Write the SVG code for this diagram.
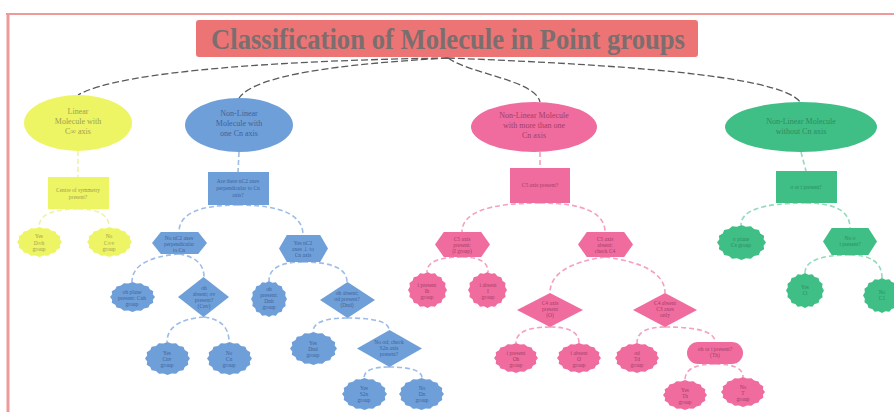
<svg xmlns="http://www.w3.org/2000/svg" width="894" height="412" viewBox="0 0 894 412">
<defs>
<symbol id="leaf" viewBox="0 0 100 100" preserveAspectRatio="none"><polygon points="100,50 95.12,58.97 96.19,69.13 88.25,75.56 85.36,85.36 75.56,88.25 69.13,96.19 58.97,95.12 50,100 41.03,95.12 30.87,96.19 24.44,88.25 14.64,85.36 11.75,75.56 3.81,69.13 4.88,58.97 0,50 4.88,41.03 3.81,30.87 11.75,24.44 14.64,14.64 24.44,11.75 30.87,3.81 41.03,4.88 50,0 58.97,4.88 69.13,3.81 75.56,11.75 85.36,14.64 88.25,24.44 96.19,30.87 95.12,41.03"/></symbol>
<symbol id="hex" viewBox="0 0 100 100" preserveAspectRatio="none"><polygon points="0,50 16,0 84,0 100,50 84,100 16,100"/></symbol>
<symbol id="dia" viewBox="0 0 100 100" preserveAspectRatio="none"><polygon points="50,0 100,50 50,100 0,50"/></symbol>
</defs>
<style>
.t{font-family:"Liberation Serif","Times New Roman",serif;text-anchor:middle}
.s{font-size:5.5px}
.m{font-size:8px}
.yf{fill:#eef564}.yt{fill:#9ea04e}
.bf{fill:#6f9fd8}.bt{fill:#3e639a}
.pf{fill:#f06c9f}.pt{fill:#a33e66}
.gf{fill:#3fbf86}.gt{fill:#2c8c60}
.c{fill:none;stroke-width:1.6;stroke-dasharray:5 3}
.cy{stroke:#eef3a8}.cb{stroke:#9dbde6}.cp{stroke:#f3a0c2}.cg{stroke:#93dbb9}
.ct{fill:none;stroke:#5a5a5a;stroke-width:1.3;stroke-dasharray:7 3}
</style>
<rect x="0" y="0" width="894" height="412" fill="#ffffff"/>
<g id="frame">
<line x1="6" y1="14" x2="894" y2="14" stroke="#ef9a9a" stroke-width="2"/>
<line x1="8" y1="14" x2="8" y2="412" stroke="#ef9a9a" stroke-width="3"/>
</g>
<g id="connectors">
<path class="ct" d="M448,58 C300,60 120,70 78,95"/>
<path class="ct" d="M448,58 C340,64 255,75 239,98"/>
<path class="ct" d="M448,58 C470,74 535,80 540,102"/>
<path class="ct" d="M448,58 C600,64 780,74 800,102"/>
<path class="c cy" d="M78,151 L78,177"/>
<path class="c cy" d="M78,209 Q39,209 39,227"/>
<path class="c cy" d="M78,209 Q109,209 109,227"/>
<path class="c cb" d="M239,152 L238,172"/>
<path class="c cb" d="M238,205 Q179,205 179,232"/>
<path class="c cb" d="M238,205 Q303,205 303,235"/>
<path class="c cb" d="M179,254 Q132,258 132,282"/>
<path class="c cb" d="M179,254 Q204,258 204,277"/>
<path class="c cb" d="M204,317 Q167,320 167,342"/>
<path class="c cb" d="M204,317 Q229,320 229,342"/>
<path class="c cb" d="M303,262 Q269,262 269,281"/>
<path class="c cb" d="M303,262 Q347,262 347,282"/>
<path class="c cb" d="M347,318 Q313,318 313,332"/>
<path class="c cb" d="M347,318 Q389,318 389,330"/>
<path class="c cb" d="M389,367 Q364,367 364,378"/>
<path class="c cb" d="M389,367 Q422,367 422,378"/>
<path class="c cp" d="M540,152 L540,168"/>
<path class="c cp" d="M540,203 Q462,203 462,232"/>
<path class="c cp" d="M540,203 Q605,203 605,232"/>
<path class="c cp" d="M462,257 Q427,257 427,272"/>
<path class="c cp" d="M462,257 Q488,257 488,272"/>
<path class="c cp" d="M605,257 Q550,265 550,293"/>
<path class="c cp" d="M605,257 Q665,265 665,293"/>
<path class="c cp" d="M550,327 Q516,327 516,343"/>
<path class="c cp" d="M550,327 Q579,327 579,343"/>
<path class="c cp" d="M665,327 Q637,327 637,343"/>
<path class="c cp" d="M665,327 Q715,327 715,342"/>
<path class="c cp" d="M715,364 Q685,364 685,380"/>
<path class="c cp" d="M715,364 Q743,364 743,377"/>
<path class="c cg" d="M801,152 L806,171"/>
<path class="c cg" d="M806,203 Q741,203 741,225"/>
<path class="c cg" d="M806,203 Q850,203 850,228"/>
<path class="c cg" d="M850,255 Q805,255 805,273"/>
<path class="c cg" d="M850,255 Q882,255 882,278"/>
</g>
<g id="title">
<rect x="196" y="20" width="502" height="37" rx="3" fill="#ec7474"/>
<text x="448" y="49" font-family="'Liberation Serif','Times New Roman',serif" font-weight="bold" font-size="30" fill="#7a6e6e" text-anchor="middle" textLength="474" lengthAdjust="spacingAndGlyphs">Classification of Molecule in Point groups</text>
</g>
<g id="y_ell"><ellipse cx="78" cy="123" rx="54" ry="28" class="yf"/><text class="t m yt" x="78" y="114"><tspan x="78">Linear</tspan><tspan x="78" dy="10">Molecule with</tspan><tspan x="78" dy="10">C∞ axis</tspan></text></g>
<g id="y_box"><rect x="48" y="177" width="61" height="32" class="yf"/><text class="t s yt" x="78" y="192"><tspan x="78">Centre of symmetry</tspan><tspan x="78" dy="7">present?</tspan></text></g>
<g id="y_leaf1"><use href="#leaf" x="17" y="227" width="45" height="30" class="yf"/><text class="t s yt" x="39" y="238"><tspan x="39">Yes</tspan><tspan x="39" dy="6.5">D∞h</tspan><tspan x="39" dy="6.5">group</tspan></text></g>
<g id="y_leaf2"><use href="#leaf" x="87" y="227" width="45" height="30" class="yf"/><text class="t s yt" x="109" y="238"><tspan x="109">No</tspan><tspan x="109" dy="6.5">C∞v</tspan><tspan x="109" dy="6.5">group</tspan></text></g>
<g id="b_ell"><ellipse cx="239" cy="125" rx="54" ry="27" class="bf"/><text class="t m bt" x="239" y="116"><tspan x="239">Non-Linear</tspan><tspan x="239" dy="10">Molecule with</tspan><tspan x="239" dy="10">one Cn axis</tspan></text></g>
<g id="b_box"><rect x="208" y="172" width="61" height="33" class="bf"/><text class="t s bt" x="238" y="183"><tspan x="238">Are there nC2 axes</tspan><tspan x="238" dy="7">perpendicular to Cn</tspan><tspan x="238" dy="7">axis?</tspan></text></g>
<g id="b_hex1"><use href="#hex" x="152" y="232" width="55" height="22" class="bf"/><text class="t s bt" x="179" y="240"><tspan x="179">No nC2 axes</tspan><tspan x="179" dy="6">perpendicular</tspan><tspan x="179" dy="6">to Cn</tspan></text></g>
<g id="b_hex2"><use href="#hex" x="279" y="235" width="49" height="27" class="bf"/><text class="t s bt" x="303" y="245"><tspan x="303">Yes nC2</tspan><tspan x="303" dy="6">axes ⊥ to</tspan><tspan x="303" dy="6">Cn axis</tspan></text></g>
<g id="b_leaf1"><use href="#leaf" x="110" y="282" width="45" height="30" class="bf"/><text class="t s bt" x="132" y="294"><tspan x="132">σh plane</tspan><tspan x="132" dy="6">present: Cnh</tspan><tspan x="132" dy="6">group</tspan></text></g>
<g id="b_dia1"><use href="#dia" x="178" y="277" width="51" height="40" class="bf"/><text class="t s bt" x="204" y="290"><tspan x="204">σh</tspan><tspan x="204" dy="6">absent; σv</tspan><tspan x="204" dy="6">present?</tspan><tspan x="204" dy="6">(Cnv)</tspan></text></g>
<g id="b_leaf2"><use href="#leaf" x="145" y="342" width="45" height="33" class="bf"/><text class="t s bt" x="167" y="355"><tspan x="167">Yes</tspan><tspan x="167" dy="6">Cnv</tspan><tspan x="167" dy="6">group</tspan></text></g>
<g id="b_leaf3"><use href="#leaf" x="207" y="342" width="45" height="33" class="bf"/><text class="t s bt" x="229" y="355"><tspan x="229">No</tspan><tspan x="229" dy="6">Cn</tspan><tspan x="229" dy="6">group</tspan></text></g>
<g id="b_leaf4"><use href="#leaf" x="251" y="281" width="36" height="36" class="bf"/><text class="t s bt" x="269" y="291"><tspan x="269">σh</tspan><tspan x="269" dy="6">present:</tspan><tspan x="269" dy="6">Dnh</tspan><tspan x="269" dy="6">group</tspan></text></g>
<g id="b_dia2"><use href="#dia" x="320" y="282" width="55" height="36" class="bf"/><text class="t s bt" x="347" y="295"><tspan x="347">σh absent;</tspan><tspan x="347" dy="6">σd present?</tspan><tspan x="347" dy="6">(Dnd)</tspan></text></g>
<g id="b_leaf5"><use href="#leaf" x="290" y="332" width="47" height="33" class="bf"/><text class="t s bt" x="313" y="345"><tspan x="313">Yes</tspan><tspan x="313" dy="6">Dnd</tspan><tspan x="313" dy="6">group</tspan></text></g>
<g id="b_dia3"><use href="#dia" x="357" y="330" width="65" height="37" class="bf"/><text class="t s bt" x="389" y="344"><tspan x="389">No σd; check</tspan><tspan x="389" dy="6">S2n axis</tspan><tspan x="389" dy="6">present?</tspan></text></g>
<g id="b_leaf6"><use href="#leaf" x="342" y="378" width="45" height="32" class="bf"/><text class="t s bt" x="364" y="390"><tspan x="364">Yes</tspan><tspan x="364" dy="6">S2n</tspan><tspan x="364" dy="6">group</tspan></text></g>
<g id="b_leaf7"><use href="#leaf" x="399" y="378" width="45" height="32" class="bf"/><text class="t s bt" x="422" y="390"><tspan x="422">No</tspan><tspan x="422" dy="6">Dn</tspan><tspan x="422" dy="6">group</tspan></text></g>
<g id="p_ell"><ellipse cx="534" cy="127" rx="63" ry="25" class="pf"/><text class="t m pt" x="534" y="118"><tspan x="534">Non-Linear Molecule</tspan><tspan x="534" dy="10">with more than one</tspan><tspan x="534" dy="10">Cn axis</tspan></text></g>
<g id="p_box"><rect x="510" y="168" width="60" height="35" class="pf"/><text class="t s pt" x="540" y="187">C5 axis present?</text></g>
<g id="p_hex1"><use href="#hex" x="435" y="232" width="55" height="25" class="pf"/><text class="t s pt" x="462" y="241"><tspan x="462">C5 axis</tspan><tspan x="462" dy="6">present:</tspan><tspan x="462" dy="6">(I group)</tspan></text></g>
<g id="p_hex2"><use href="#hex" x="578" y="232" width="55" height="25" class="pf"/><text class="t s pt" x="605" y="241"><tspan x="605">C5 axis</tspan><tspan x="605" dy="6">absent:</tspan><tspan x="605" dy="6">check C4</tspan></text></g>
<g id="p_leaf1"><use href="#leaf" x="408" y="272" width="39" height="36" class="pf"/><text class="t s pt" x="427" y="287"><tspan x="427">i present</tspan><tspan x="427" dy="6">Ih</tspan><tspan x="427" dy="6">group</tspan></text></g>
<g id="p_leaf2"><use href="#leaf" x="468" y="272" width="39" height="36" class="pf"/><text class="t s pt" x="488" y="287"><tspan x="488">i absent</tspan><tspan x="488" dy="6">I</tspan><tspan x="488" dy="6">group</tspan></text></g>
<g id="p_dia1"><use href="#dia" x="517" y="293" width="66" height="34" class="pf"/><text class="t s pt" x="550" y="305"><tspan x="550">C4 axis</tspan><tspan x="550" dy="6">present</tspan><tspan x="550" dy="6">(O)</tspan></text></g>
<g id="p_dia2"><use href="#dia" x="633" y="293" width="64" height="34" class="pf"/><text class="t s pt" x="665" y="305"><tspan x="665">C4 absent</tspan><tspan x="665" dy="6">C3 axes</tspan><tspan x="665" dy="6">only</tspan></text></g>
<g id="p_leaf3"><use href="#leaf" x="494" y="343" width="44" height="30" class="pf"/><text class="t s pt" x="516" y="355"><tspan x="516">i present</tspan><tspan x="516" dy="6">Oh</tspan><tspan x="516" dy="6">group</tspan></text></g>
<g id="p_leaf4"><use href="#leaf" x="557" y="343" width="44" height="30" class="pf"/><text class="t s pt" x="579" y="355"><tspan x="579">i absent</tspan><tspan x="579" dy="6">O</tspan><tspan x="579" dy="6">group</tspan></text></g>
<g id="p_leaf5"><use href="#leaf" x="615" y="343" width="44" height="30" class="pf"/><text class="t s pt" x="637" y="355"><tspan x="637">σd</tspan><tspan x="637" dy="6">Td</tspan><tspan x="637" dy="6">group</tspan></text></g>
<g id="p_pill"><rect x="687" y="342" width="56" height="22" rx="11" class="pf"/><text class="t s pt" x="715" y="351"><tspan x="715">σh or i present?</tspan><tspan x="715" dy="6">(Th)</tspan></text></g>
<g id="p_leaf6"><use href="#leaf" x="663" y="380" width="44" height="30" class="pf"/><text class="t s pt" x="685" y="392"><tspan x="685">Yes</tspan><tspan x="685" dy="6">Th</tspan><tspan x="685" dy="6">group</tspan></text></g>
<g id="p_leaf7"><use href="#leaf" x="721" y="377" width="44" height="30" class="pf"/><text class="t s pt" x="743" y="389"><tspan x="743">No</tspan><tspan x="743" dy="6">T</tspan><tspan x="743" dy="6">group</tspan></text></g>
<g id="g_ell"><ellipse cx="801" cy="127" rx="76" ry="25" class="gf"/><text class="t m gt" x="801" y="124"><tspan x="801">Non-Linear Molecule</tspan><tspan x="801" dy="10">without Cn axis</tspan></text></g>
<g id="g_box"><rect x="776" y="171" width="61" height="32" class="gf"/><text class="t s gt" x="806" y="189">σ or i present?</text></g>
<g id="g_leaf1"><use href="#leaf" x="717" y="225" width="49" height="35" class="gf"/><text class="t s gt" x="741" y="241"><tspan x="741">σ plane</tspan><tspan x="741" dy="6">Cs group</tspan></text></g>
<g id="g_hex"><use href="#hex" x="823" y="228" width="54" height="27" class="gf"/><text class="t s gt" x="850" y="240"><tspan x="850">No σ</tspan><tspan x="850" dy="6">i present?</tspan></text></g>
<g id="g_leaf2"><use href="#leaf" x="786" y="273" width="38" height="35" class="gf"/><text class="t s gt" x="805" y="289"><tspan x="805">Yes</tspan><tspan x="805" dy="6">Ci</tspan></text></g>
<g id="g_leaf3"><use href="#leaf" x="863" y="278" width="38" height="35" class="gf"/><text class="t s gt" x="882" y="294"><tspan x="882">No</tspan><tspan x="882" dy="6">C1</tspan></text></g>
</svg>
